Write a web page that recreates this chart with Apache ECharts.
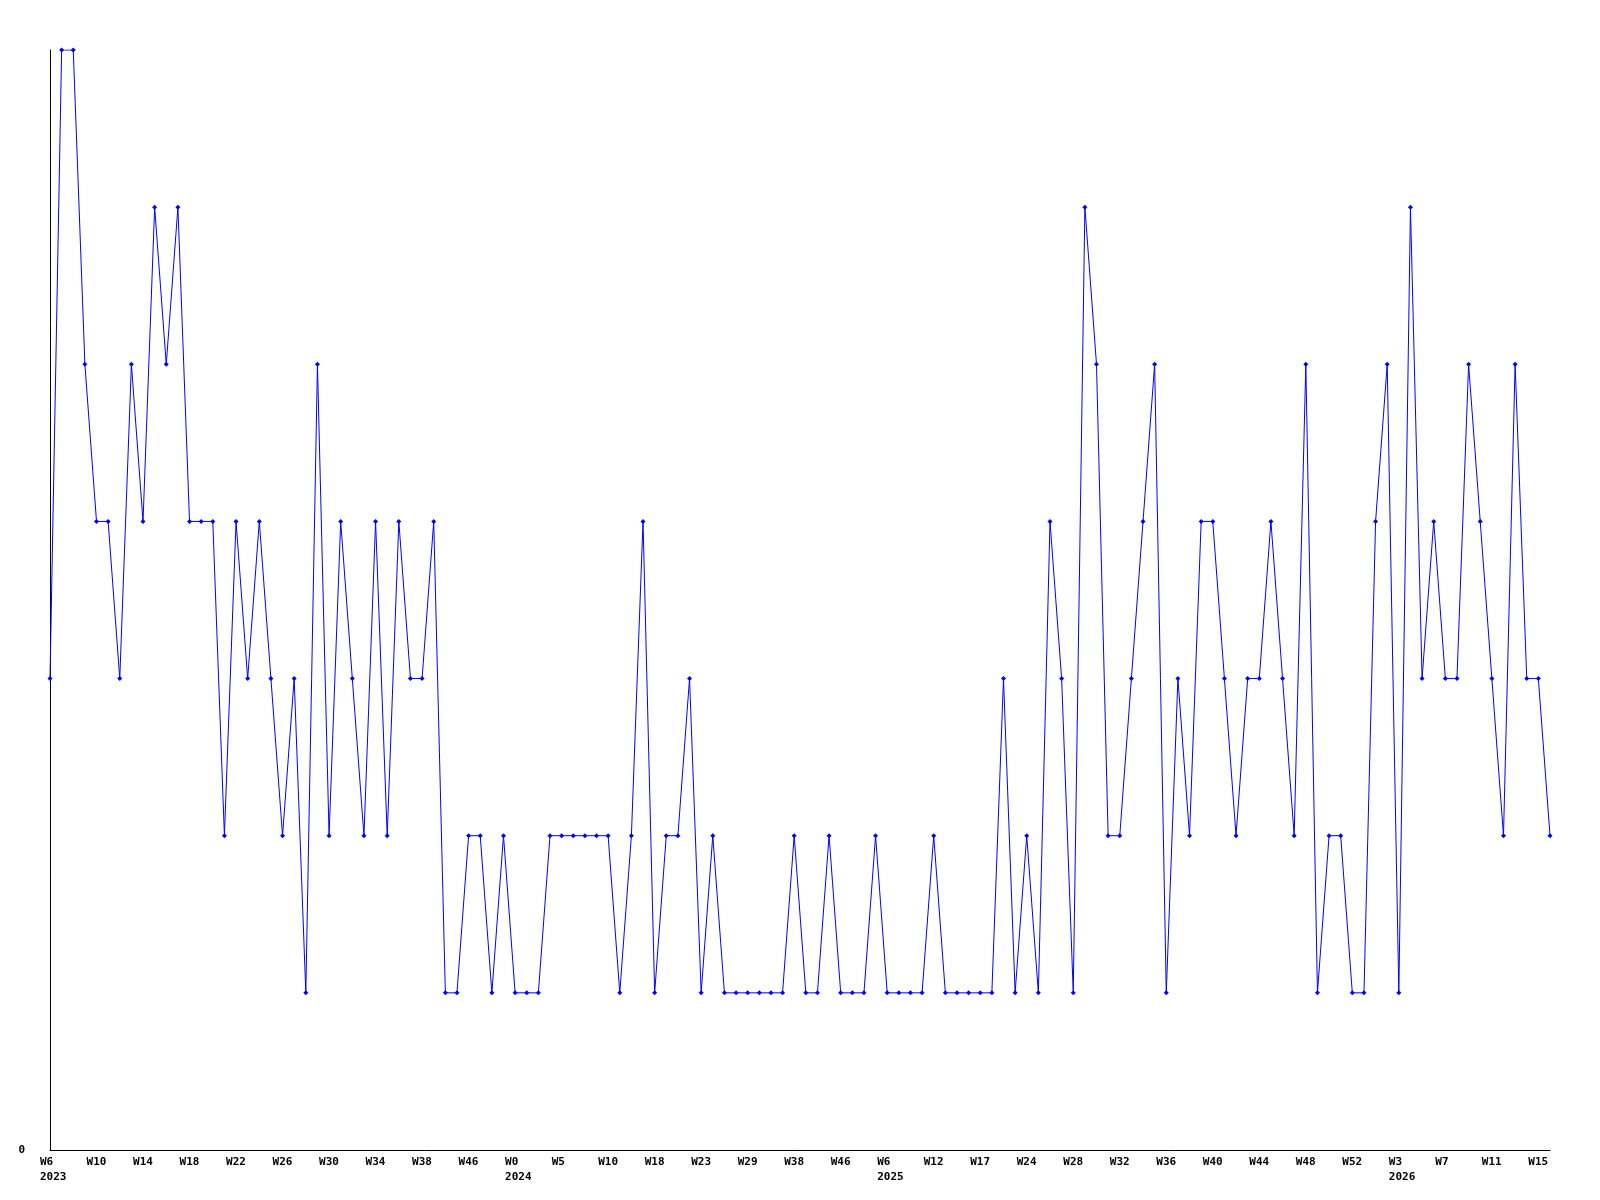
<!DOCTYPE html>
<html>
<head>
<meta charset="utf-8">
<script src="https://cdn.jsdelivr.net/npm/echarts@6/dist/echarts.min.js"></script>
<style>
  html, body { margin: 0; padding: 0; background: #fff; }
  #chart { width: 1600px; height: 1200px; }
</style>
</head>
<body>
<div id="chart"></div>
<script>
// weekly counts, one per point
const counts = [
  3, 7, 7, 5, 4, 4, 3, 5, 4, 6, 5, 6, 4, 4, 4, 2, 4, 3, 4, 3, 2, 3, 1,
  5, 2, 4, 3, 2, 4, 2, 4, 3, 3, 4, 1, 1, 2, 2, 1, 2, 1, 1, 1, 2, 2,
  2, 2, 2, 2, 1, 2, 4, 1, 2, 2, 3, 1, 2, 1, 1, 1, 1, 1, 1, 2, 1, 1, 2,
  1, 1, 1, 2, 1, 1, 1, 1, 2, 1, 1, 1, 1, 1, 3, 1, 2, 1, 4, 3, 1, 6,
  5, 2, 2, 3, 4, 5, 1, 3, 2, 4, 4, 3, 2, 3, 3, 4, 3, 2, 5, 1, 2, 2,
  1, 1, 4, 5, 1, 6, 3, 4, 3, 3, 5, 4, 3, 2, 5, 3, 3, 2
]
// labels shown on every 4th point
const tickWeeks = ['W6', 'W10', 'W14', 'W18', 'W22', 'W26', 'W30', 'W34', 'W38', 'W46',
  'W0', 'W5', 'W10', 'W18', 'W23', 'W29', 'W38', 'W46',
  'W6', 'W12', 'W17', 'W24', 'W28', 'W32', 'W36', 'W40', 'W44', 'W48', 'W52',
  'W3', 'W7', 'W11', 'W15']
// year written under the first labelled week of each year (index into tickWeeks)
const yearTicks = { 0: '2023', 10: '2024', 18: '2025', 29: '2026' }
const tickStep = 4

const categories = counts.map((_, i) => 'p' + i)

const chart = echarts.init(document.getElementById('chart'))
chart.setOption({
  animation: false,
  backgroundColor: '#fff',
  grid: { left: 50, right: 50, top: 50, bottom: 50, containLabel: false },
  xAxis: {
    type: 'category',
    data: categories,
    boundaryGap: false,
    axisLine: { show: true, lineStyle: { color: '#000', width: 1 } },
    axisTick: { show: false },
    splitLine: { show: false },
    axisLabel: {
      interval: tickStep - 1,
      margin: 5,
      align: 'left',
      padding: [0, 0, 0, -10],
      color: '#000',
      fontFamily: 'DejaVu Sans Mono',
      fontWeight: 'bold',
      fontSize: 11,
      lineHeight: 15,
      formatter: (v, i) => {
        if (i % tickStep !== 0) return ''
        const k = i / tickStep
        const w = tickWeeks[k]
        if (yearTicks[k]) return w + '\n' + yearTicks[k]
        return w
      },
    },
  },
  yAxis: {
    type: 'value',
    min: 0,
    max: 7,
    interval: 7,
    axisLine: { show: true, lineStyle: { color: '#000', width: 1 } },
    axisTick: { show: false },
    splitLine: { show: false },
    axisLabel: {
      margin: 25,
      color: '#000',
      fontFamily: 'DejaVu Sans Mono',
      fontWeight: 'bold',
      fontSize: 11,
      formatter: v => (v === 0 ? '0' : ''),
    },
  },
  series: [
    {
      type: 'line',
      data: counts,
      showAllSymbol: true,
      symbol: 'diamond',
      symbolSize: 5,
      lineStyle: { color: '#0000ff', width: 1 },
      itemStyle: { color: '#0000ff' },
      emphasis: { disabled: true },
    },
  ],
})
</script>
</body>
</html>
